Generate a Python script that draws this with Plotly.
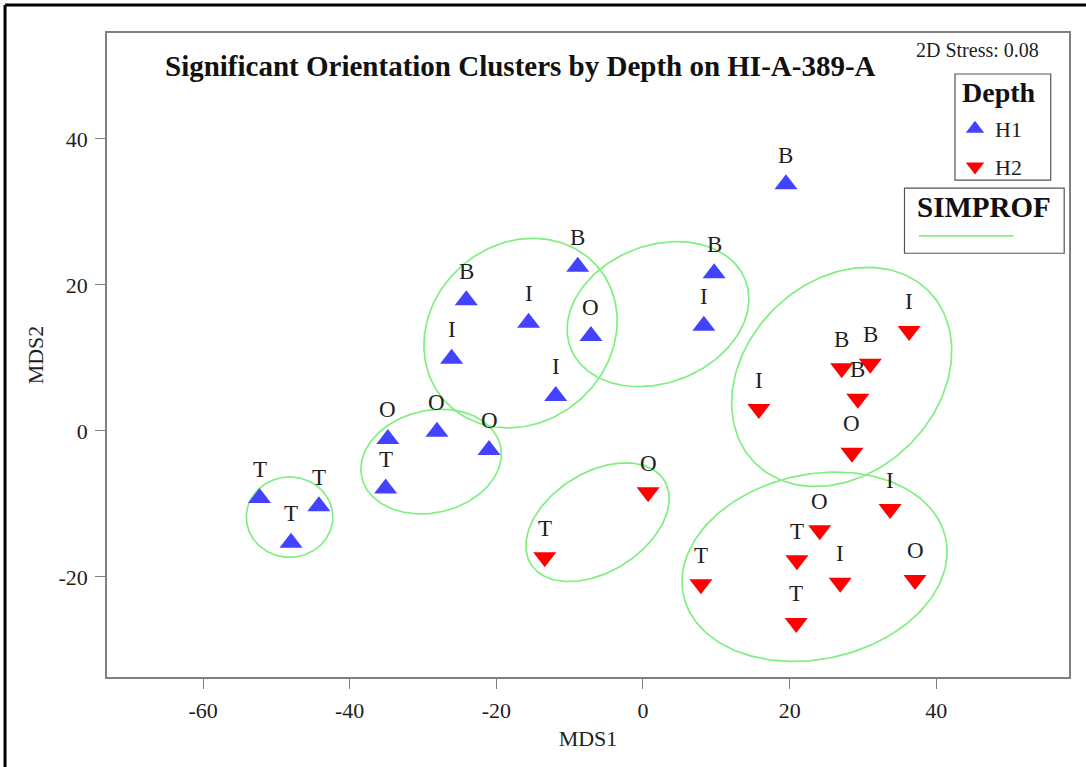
import numpy as np
import plotly.graph_objects as go

# ---- MDS ordination scores ----
h1_x = [-52.3, -48.0, -44.2, -35.1, -34.8, -28.1, -21.0, -24.1, -26.1, -15.6, -11.9, -8.9, -7.1, 8.3, 9.7, 19.5]
h1_y = [-9.2, -15.3, -10.3, -7.9, -1.1, -0.1, -2.6, 17.9, 9.9, 14.8, 4.8, 22.5, 13.0, 14.4, 21.6, 33.8]
h1_lab = ["T", "T", "T", "T", "O", "O", "O", "B", "I", "I", "I", "B", "O", "I", "B", "B"]

h2_x = [-13.4, 0.7, 15.8, 27.1, 31.0, 29.3, 36.3, 28.5, 33.7, 24.1, 21.0, 7.9, 26.9, 37.1, 20.9]
h2_y = [-17.3, -8.4, 3.0, 8.6, 9.2, 4.4, 13.7, -3.0, -10.7, -13.6, -17.7, -21.0, -20.8, -20.4, -26.3]
h2_lab = ["T", "O", "I", "B", "B", "B", "I", "O", "I", "O", "T", "T", "I", "O", "T"]

# ---- SIMPROF cluster outlines: centre, semi-axes, rotation (deg) ----
clu_cx = [-48.2, -28.9, -16.7, 2.05, -6.2, 23.4, 27.1]
clu_cy = [-11.8, -4.2, 13.4, 16.0, -12.5, -18.6, 7.4]
clu_a = [5.9, 9.7, 13.9, 12.8, 10.75, 18.3, 16.7]
clu_b = [5.5, 7.0, 12.2, 9.4, 6.78, 12.65, 13.1]
clu_rot = [0.0, 13.0, 41.6, 21.6, 32.5, 12.5, 45.0]

x_ticks = [-60, -40, -20, 0, 20, 40]
x_tick_text = ["-60", "-40", "-20", "0", "20", "40"]
y_ticks = [-20, 0, 20, 40]
y_tick_text = ["-20", "0", "20", "40"]

SERIF = "Liberation Serif"
BLUE = "#4343ff"
RED = "#ff0000"
GREEN = "#80ef80"
INK = "#1e1e1e"

fig = go.Figure()

# cluster ellipses
t = np.linspace(0, 2 * np.pi, 200)
for cx, cy, a, b, r in zip(clu_cx, clu_cy, clu_a, clu_b, clu_rot):
    th = np.deg2rad(r)
    ex = cx + a * np.cos(t) * np.cos(th) - b * np.sin(t) * np.sin(th)
    ey = cy + a * np.cos(t) * np.sin(th) + b * np.sin(t) * np.cos(th)
    fig.add_trace(go.Scatter(x=ex, y=ey, mode="lines", line=dict(color=GREEN, width=1.7),
                             hoverinfo="skip", showlegend=False))

fig.add_trace(go.Scatter(x=h1_x, y=h1_y, mode="markers", name="H1", legendgroup="h1",
                         marker=dict(symbol="triangle-up", size=20, color=BLUE, line=dict(width=0))))
fig.add_trace(go.Scatter(x=h2_x, y=h2_y, mode="markers", name="H2", legendgroup="h2",
                         marker=dict(symbol="triangle-down", size=20, color=RED, line=dict(width=0))))

# point labels
for xs, ys, ls in ((h1_x, h1_y, h1_lab), (h2_x, h2_y, h2_lab)):
    for x, y, s in zip(xs, ys, ls):
        fig.add_annotation(x=x, y=y, text=s, showarrow=False, yshift=29,
                           font=dict(family=SERIF, size=23, color=INK))

# title and stress value
fig.add_annotation(xref="paper", yref="paper", x=0.43, y=0.949, xanchor="center", yanchor="middle",
                   text="<b>Significant Orientation Clusters by Depth on HI-A-389-A</b>",
                   showarrow=False, font=dict(family=SERIF, size=29, color="#111"))
fig.add_annotation(xref="paper", yref="paper", x=0.905, y=0.974, xanchor="center", yanchor="middle",
                   text="2D Stress: 0.08",
                   showarrow=False, font=dict(family=SERIF, size=20, color=INK))

# Depth key frame and heading (entries come from the legend)
fig.add_shape(type="rect", xref="paper", yref="paper", x0=0.8815, x1=0.981, y0=0.7717, y1=0.9363,
              line=dict(color="#555", width=1.2), fillcolor="white", layer="above")
fig.add_annotation(xref="paper", yref="paper", x=0.927, y=0.908, xanchor="center", yanchor="middle",
                   text="<b>Depth</b>",
                   showarrow=False, font=dict(family=SERIF, size=28, color="#111"))

# SIMPROF key box
fig.add_shape(type="rect", xref="paper", yref="paper", x0=0.829, x1=0.995, y0=0.658, y1=0.759,
              line=dict(color="#555", width=1.2), fillcolor="white")
fig.add_annotation(xref="paper", yref="paper", x=0.840, y=0.730, xanchor="left", yanchor="middle",
                   text="<b>SIMPROF</b>",
                   showarrow=False, font=dict(family=SERIF, size=29, color="#111"))
fig.add_shape(type="line", xref="paper", yref="paper", x0=0.844, x1=0.942, y0=0.685, y1=0.685,
              line=dict(color=GREEN, width=1.7))

# outer frame (top and left edges)
fig.add_shape(type="line", xref="paper", yref="paper", x0=-0.106, x1=1.02, y0=1.0435, y1=1.0435,
              line=dict(color="black", width=3))
fig.add_shape(type="line", xref="paper", yref="paper", x0=-0.106, x1=-0.106, y0=1.0435, y1=-0.15,
              line=dict(color="black", width=3))

axis_common = dict(showgrid=False, zeroline=False, showline=True, mirror=True,
                   linecolor="#808080", linewidth=1.5, ticks="outside", ticklen=10,
                   tickcolor="#808080", tickwidth=1, ticklabelstandoff=3,
                   tickfont=dict(family=SERIF, size=22, color=INK))

fig.update_layout(
    width=1086, height=767,
    margin=dict(l=107, r=17, t=33, b=90),
    paper_bgcolor="white", plot_bgcolor="white",
    xaxis=dict(range=[-73.1, 58.1], tickvals=x_ticks, ticktext=x_tick_text,
               title=dict(text="MDS1", font=dict(family=SERIF, size=22, color=INK), standoff=8),
               **axis_common),
    yaxis=dict(range=[-33.7, 54.5], tickvals=y_ticks, ticktext=y_tick_text,
               title=dict(text="MDS2", font=dict(family=SERIF, size=22, color=INK), standoff=9),
               **axis_common),
    legend=dict(x=0.8815, y=0.8835, xanchor="left", yanchor="top",
                font=dict(family=SERIF, size=22, color=INK),
                borderwidth=0, bgcolor="rgba(0,0,0,0)", tracegroupgap=6),
)

fig.write_html("out.html")
